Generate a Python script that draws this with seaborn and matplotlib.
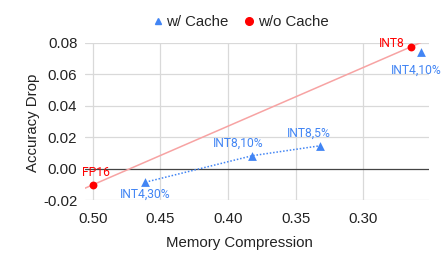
import matplotlib
matplotlib.use("Agg")
import matplotlib.pyplot as plt
from matplotlib.lines import Line2D
import seaborn as sns
import pandas as pd

# data
cache_x = [0.461, 0.382, 0.332, 0.257]
cache_y = [-0.0085, 0.0083, 0.0146, 0.0739]
cache_labels = ["INT4,30%", "INT8,10%", "INT8,5%", "INT4,10%"]
nocache_x = [0.500, 0.265]
nocache_y = [-0.0102, 0.0773]
nocache_labels = ["FP16", "INT8"]
xticks = [0.50, 0.45, 0.40, 0.35, 0.30]
yticks = [-0.02, 0.00, 0.02, 0.04, 0.06, 0.08]

BLUE = "#4285f4"
RED = "#ff0000"
TXT = "#222222"

sns.set_theme(style="white")
plt.rcParams["font.family"] = ["Liberation Sans", "DejaVu Sans"]

df = pd.DataFrame({
    "x": cache_x + nocache_x,
    "y": cache_y + nocache_y,
    "series": ["w/ Cache"] * len(cache_x) + ["w/o Cache"] * len(nocache_x),
    "label": cache_labels + nocache_labels,
})

fig = plt.figure(figsize=(4.43, 2.68), dpi=100)
ax = fig.add_axes([85 / 443, 1 - 200.3 / 268, (429 - 85) / 443, (200.3 - 42.7) / 268])
ax.set_xlim(0.5057, 0.2514)
ax.set_ylim(-0.02, 0.08)

# grid
for xt in xticks:
    ax.axvline(xt, color="#d9d9d9", lw=0.9, zorder=0)
for yt in yticks:
    ax.axhline(yt, color="#444444" if yt == 0 else "#d9d9d9", lw=0.9, zorder=0.5)

# red trendline (linear through the w/o cache points)
nc = df[df.series == "w/o Cache"]
sns.regplot(data=nc, x="x", y="y", ax=ax, scatter=False, ci=None, truncate=False,
            line_kws=dict(color="#f7a3a3", lw=1.1, zorder=1))

# dotted blue line through first three w/ cache points
wc = df[df.series == "w/ Cache"]
sns.lineplot(data=wc.iloc[:3], x="x", y="y", ax=ax, sort=False, color=BLUE, lw=1.1,
             linestyle=(0, (1, 1.2)), zorder=2)

sns.scatterplot(data=wc, x="x", y="y", color=BLUE, marker="^", s=40, linewidth=0,
                ax=ax, zorder=3, legend=False)
sns.scatterplot(data=nc, x="x", y="y", color=RED, marker="o", s=32, linewidth=0,
                ax=ax, zorder=3, legend=False)

# data labels
offsets = {
    "INT4,30%": (0, -8.6, "center"),
    "INT8,10%": (-10, 9.1, "center"),
    "INT8,5%": (-8.3, 9.1, "center"),
    "INT4,10%": (-3.7, -13.2, "center"),
    "FP16": (2.4, 8.9, "center"),
    "INT8": (-4, 2.4, "right"),
}
for _, r in df.iterrows():
    dx, dy, ha = offsets[r["label"]]
    ax.annotate(r["label"], (r["x"], r["y"]), xytext=(dx, dy), textcoords="offset points",
                ha=ha, va="center", fontsize=8.7, family=["Roboto", "DejaVu Sans"],
                color=BLUE if r["series"] == "w/ Cache" else RED)

ax.set_xticks(xticks)
ax.set_xticklabels([f"{v:.2f}" for v in xticks])
ax.set_yticks(yticks)
ax.set_yticklabels([f"{v:.2f}" for v in yticks])
ax.tick_params(axis="both", length=0, labelsize=10.8, colors=TXT)
ax.tick_params(axis="x", pad=8.5)
ax.tick_params(axis="y", pad=5.5)
for s in ax.spines.values():
    s.set_visible(False)
ax.set_xlabel("Memory Compression", fontsize=10.8, color=TXT)
ax.xaxis.set_label_coords(0.448, -0.225)
ax.set_ylabel("Accuracy Drop", fontsize=10.8, color=TXT)
ax.yaxis.set_label_coords(-0.132, 0.49)

# legend
handles = [
    Line2D([], [], marker="^", color=BLUE, lw=0, markersize=4.5),
    Line2D([], [], marker="o", color=RED, lw=0, markersize=5.5),
]
fig.legend(handles, ["w/ Cache", "w/o Cache"], loc="center", ncol=2, frameon=False,
           bbox_to_anchor=(240 / 443, 1 - 22 / 268), fontsize=10.8, handletextpad=0.15,
           columnspacing=1.0, handlelength=0.8)

fig.savefig("out.png", dpi=100)
